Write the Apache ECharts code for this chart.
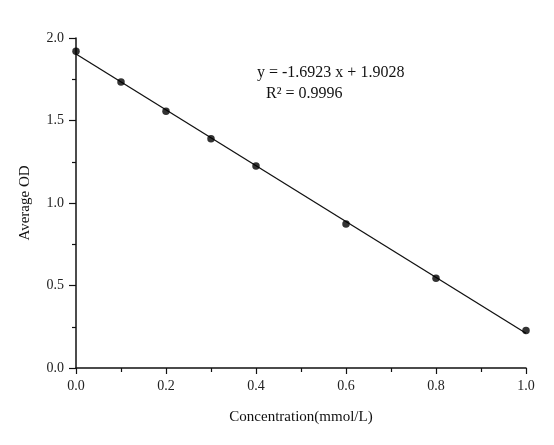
<!DOCTYPE html>
<html>
<head>
<meta charset="utf-8">
<script src="https://cdn.jsdelivr.net/npm/echarts@6/dist/echarts.min.js"></script>
<style>
  html, body { margin: 0; padding: 0; background: #fff; }
  #chart { width: 554px; height: 445px; }
</style>
</head>
<body>
<div id="chart"></div>
<script>
// measured points
const concentration = [0, 0.1, 0.2, 0.3, 0.4, 0.6, 0.8, 1.0];
const averageOD = [1.919, 1.733, 1.556, 1.390, 1.224, 0.873, 0.544, 0.228];

// linear fit shown on the plot
const slope = -1.6923;
const intercept = 1.9028;
const rSquared = '0.9996';
const fitRange = [0, 1.0];

const FONT = '"Liberation Serif", "DejaVu Serif", serif';

const points = concentration.map((c, i) => [c, averageOD[i]]);
const fitLine = fitRange.map(x => [x, slope * x + intercept]);

const chart = echarts.init(document.getElementById('chart'));

chart.setOption({
  backgroundColor: '#fff',
  animation: false,
  grid: { left: 76, right: 28, top: 38, bottom: 77 },
  xAxis: {
    type: 'value',
    min: 0,
    max: 1.0,
    interval: 0.2,
    name: 'Concentration(mmol/L)',
    nameLocation: 'middle',
    nameGap: 42,
    nameTextStyle: { fontFamily: FONT, fontSize: 15, color: '#111' },
    axisLine: { show: true, onZero: false, lineStyle: { color: '#111', width: 1.5 } },
    axisTick: { show: true, inside: false, length: 6, lineStyle: { color: '#111', width: 1.2 } },
    minorTick: { show: true, splitNumber: 2, length: 4, lineStyle: { color: '#111', width: 1.2 } },
    axisLabel: {
      fontFamily: FONT, fontSize: 14, color: '#222', margin: 11,
      formatter: v => v.toFixed(1)
    },
    splitLine: { show: false }
  },
  yAxis: {
    type: 'value',
    min: 0,
    max: 2.0,
    interval: 0.5,
    name: 'Average OD',
    nameLocation: 'middle',
    nameGap: 43,
    nameTextStyle: { fontFamily: FONT, fontSize: 15, color: '#111' },
    axisLine: { show: true, onZero: false, lineStyle: { color: '#111', width: 1.5 } },
    axisTick: { show: true, inside: false, length: 7, lineStyle: { color: '#111', width: 1.2 } },
    minorTick: { show: true, splitNumber: 2, length: 4, lineStyle: { color: '#111', width: 1.2 } },
    axisLabel: {
      fontFamily: FONT, fontSize: 14, color: '#222', margin: 12,
      formatter: v => v.toFixed(1)
    },
    splitLine: { show: false }
  },
  series: [
    {
      name: 'fit',
      type: 'line',
      data: fitLine,
      symbol: 'none',
      lineStyle: { color: '#111', width: 1.3 },
      z: 2
    },
    {
      name: 'OD',
      type: 'scatter',
      data: points,
      symbol: 'circle',
      symbolSize: 7.5,
      itemStyle: { color: '#000' },
      z: 3
    }
  ],
  graphic: [
    {
      type: 'text',
      left: 257,
      top: 65,
      style: {
        text: 'y = ' + slope.toFixed(4) + ' x + ' + intercept.toFixed(4),
        font: '16px ' + FONT,
        fill: '#111'
      }
    },
    {
      type: 'text',
      left: 266,
      top: 86,
      style: {
        text: 'R\u00B2 = ' + rSquared,
        font: '16px ' + FONT,
        fill: '#111'
      }
    }
  ]
});
</script>
</body>
</html>
